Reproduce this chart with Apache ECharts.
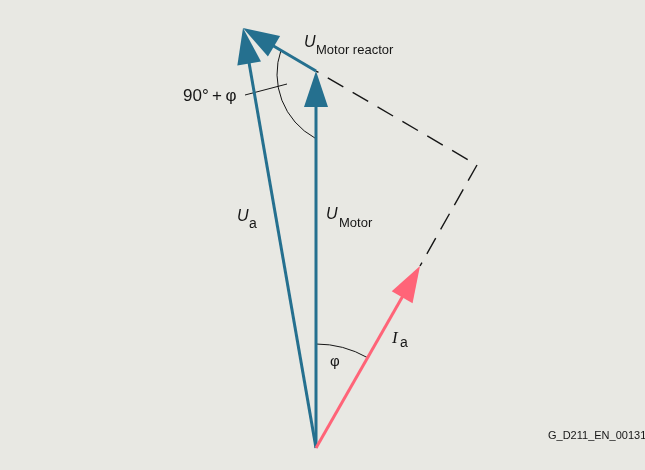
<!DOCTYPE html>
<html><head><meta charset="utf-8">
<script src="https://cdn.jsdelivr.net/npm/echarts@6/dist/echarts.min.js"></script>
<style>html,body{margin:0;padding:0;background:#e8e8e3;} #c{width:645px;height:470px;}</style>
</head><body><div id="c"></div>
<script>
// Phasors (data units; origin at the common start point, y up)
const phasorNames = ['U_a', 'U_Motor', 'U_Motor reactor', 'I_a'];
const phasorStartX = [0, 0, 0, 0];
const phasorStartY = [0, 0, 377, 0];
const phasorEndX = [-73, 0, -73, 104];
const phasorEndY = [420, 377, 420, 182];
// Dashed construction lines (U_Motor tip -> corner -> I_a tip)
const helperX = [0, 161, 104];
const helperY = [377, 283, 182];
// Angle arcs (center, radius, from/to angle in degrees)
const arcNames = ['phi', '90deg+phi'];
const arcCenterX = [0, 34];
const arcCenterY = [0, 374];
const arcRadius = [104, 73];
const arcFrom = [90, 160.8];
const arcTo = [60.3, 241.3];
// Leader line for the 90°+φ label
const leaderX = [-71, -29];
const leaderY = [353, 364];

const BLUE = '#25708f', PINK = '#ff6478', INK = '#161616';
const colorOf = n => n === 'I_a' ? PINK : BLUE;

const chart = echarts.init(document.getElementById('c'), null, {renderer: 'canvas'});

const phasorData = phasorNames.map((n, i) => [phasorStartX[i], phasorStartY[i], phasorEndX[i], phasorEndY[i], n]);
const helperData = [
  [helperX[0], helperY[0], helperX[1], helperY[1]],
  [helperX[1], helperY[1], helperX[2], helperY[2]]
];
const helperDash = [{dash: [18, 10.8], offset: 18}, {dash: [18, 10], offset: 0}];
const arcData = arcNames.map((n, i) => [arcCenterX[i], arcCenterY[i], arcRadius[i], arcFrom[i], arcTo[i]]);

function renderPhasor(params, api) {
  const p0 = api.coord([api.value(0), api.value(1)]);
  const p1 = api.coord([api.value(2), api.value(3)]);
  const name = phasorNames[params.dataIndex];
  const col = colorOf(name);
  const dx = p1[0] - p0[0], dy = p1[1] - p0[1];
  const L = Math.sqrt(dx * dx + dy * dy);
  const ux = dx / L, uy = dy / L, nx = -uy, ny = ux;
  const headLen = 36, headHalf = 12;
  const bx = p1[0] - ux * headLen, by = p1[1] - uy * headLen;
  const sx = p1[0] - ux * (headLen - 4), sy = p1[1] - uy * (headLen - 4);
  return {
    type: 'group',
    children: [
      {type: 'line', shape: {x1: p0[0], y1: p0[1], x2: sx, y2: sy}, style: {stroke: col, lineWidth: 3}},
      {type: 'polygon', shape: {points: [[p1[0], p1[1]], [bx + nx * headHalf, by + ny * headHalf], [bx - nx * headHalf, by - ny * headHalf]]}, style: {fill: col}}
    ]
  };
}

function renderHelper(params, api) {
  const p0 = api.coord([api.value(0), api.value(1)]);
  const p1 = api.coord([api.value(2), api.value(3)]);
  const rev = params.dataIndex === 0;
  const a = rev ? p1 : p0, b = rev ? p0 : p1;
  const d = helperDash[params.dataIndex];
  return {type: 'line', shape: {x1: a[0], y1: a[1], x2: b[0], y2: b[1]},
    style: {stroke: INK, lineWidth: 1.4, lineDash: d.dash, lineDashOffset: d.offset}};
}

function renderArc(params, api) {
  const c = api.coord([api.value(0), api.value(1)]);
  const r = api.size([api.value(2), 0])[0];
  const sa = -api.value(3) * Math.PI / 180, ea = -api.value(4) * Math.PI / 180;
  return {type: 'arc', shape: {cx: c[0], cy: c[1], r: r, startAngle: sa, endAngle: ea, clockwise: ea > sa},
    style: {stroke: INK, fill: null, lineWidth: 1}};
}

function renderLeader(params, api) {
  const p0 = api.coord([leaderX[0], leaderY[0]]);
  const p1 = api.coord([leaderX[1], leaderY[1]]);
  return {type: 'line', shape: {x1: p0[0], y1: p0[1], x2: p1[0], y2: p1[1]}, style: {stroke: INK, lineWidth: 1}};
}

const SANS = '"Liberation Sans", Arial, sans-serif';
function txt(x, y, text, size) {
  return {type: 'text', x: x, y: y, silent: true,
    style: {text: text, font: size + 'px ' + SANS, fill: INK, align: 'left', verticalAlign: 'middle'}};
}
function itxt(x, y, text, size, family) {
  return {type: 'text', x: x, y: y, silent: true,
    style: {text: text, font: 'italic ' + size + 'px ' + (family || SANS), fill: INK, align: 'left', verticalAlign: 'middle'}};
}

chart.setOption({
  animation: false,
  backgroundColor: '#e8e8e3',
  grid: {left: 0, right: 0, top: 0, bottom: 0},
  xAxis: {type: 'value', min: -316, max: 329, show: false},
  yAxis: {type: 'value', min: -22, max: 448, show: false},
  series: [
    {type: 'custom', renderItem: renderHelper, data: helperData, encode: {x: [0, 2], y: [1, 3]}, silent: true},
    {type: 'custom', renderItem: renderArc, data: arcData, encode: {x: 0, y: 1}, silent: true},
    {type: 'custom', renderItem: renderLeader, data: [[leaderX[0], leaderY[0]]], encode: {x: 0, y: 1}, silent: true},
    {type: 'custom', renderItem: renderPhasor, data: phasorData, encode: {x: [0, 2], y: [1, 3]}, silent: true}
  ],
  graphic: [
    itxt(304, 42.5, 'U', 16),
    txt(316, 50.5, 'Motor reactor', 13),
    txt(183, 96.5, '90°\u2009+\u2009φ', 17),
    itxt(237, 216.5, 'U', 16),
    txt(249, 224, 'a', 14),
    itxt(326, 215, 'U', 16),
    txt(339, 223.5, 'Motor', 13),
    itxt(392, 339, 'I', 17, '"Liberation Serif", serif'),
    txt(400, 343, 'a', 14),
    txt(330, 362, 'φ', 15),
    txt(548, 435.5, 'G_D211_EN_00131', 11)
  ]
});
</script></body></html>
